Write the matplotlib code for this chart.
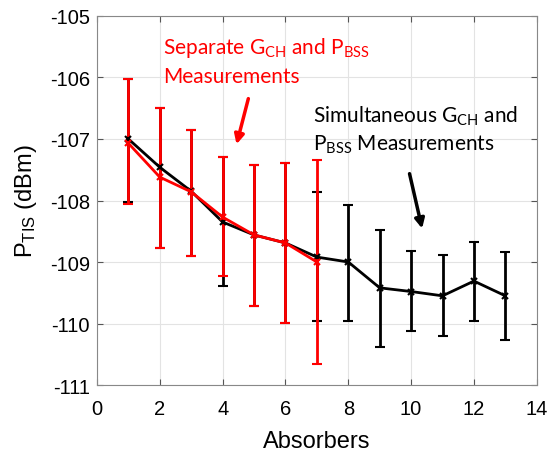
import matplotlib.pyplot as plt

# Simultaneous measurements (black)
absorbers_sim = [1, 2, 3, 4, 5, 6, 7, 8, 9, 10, 11, 12, 13]
ptis_sim = [-107.0, -107.46, -107.85, -108.35, -108.56, -108.69, -108.92,
            -109.0, -109.42, -109.48, -109.55, -109.31, -109.55]
sim_upper = [-106.03, -106.5, -106.86, -107.29, -107.43, -107.39, -107.86,
             -108.07, -108.48, -108.82, -108.88, -108.67, -108.84]
sim_lower = [-108.02, -108.77, -108.9, -109.39, -109.72, -109.99, -109.96,
             -109.96, -110.38, -110.12, -110.2, -109.96, -110.27]

# Separate measurements (red)
absorbers_sep = [1, 2, 3, 4, 5, 6, 7]
ptis_sep = [-107.07, -107.62, -107.86, -108.27, -108.56, -108.69, -109.0]
sep_upper = [-106.03, -106.5, -106.86, -107.3, -107.43, -107.39, -107.34]
sep_lower = [-108.05, -108.77, -108.9, -109.23, -109.72, -109.99, -110.66]

xticks = [0, 2, 4, 6, 8, 10, 12, 14]
yticks = [-111, -110, -109, -108, -107, -106, -105]

plt.rcParams['font.family'] = ['Liberation Sans', 'DejaVu Sans']
plt.rcParams['axes.unicode_minus'] = False

fig = plt.figure(figsize=(5.49, 4.52), dpi=100)
ax = fig.add_axes([0.1767, 0.146, 0.801, 0.8164])


def draw_series(ax, x, y, up, lo, color):
    err = [[m - l for m, l in zip(y, lo)], [u - m for m, u in zip(y, up)]]
    ax.errorbar(x, y, yerr=err, color=color, lw=2, elinewidth=2,
                capsize=3.5, capthick=2, marker='x', markersize=5,
                markeredgewidth=1.5)


draw_series(ax, absorbers_sim, ptis_sim, sim_upper, sim_lower, 'black')
draw_series(ax, absorbers_sep, ptis_sep, sep_upper, sep_lower, '#ff0000')

ax.set_xlim(0, 14)
ax.set_ylim(-111, -105)
ax.set_xticks(xticks)
ax.set_yticks(yticks)
ax.tick_params(direction='in', top=True, right=True, labelsize=14.5,
               color='#555555', length=4, pad=5)
ax.tick_params(axis='x', pad=10)
ax.grid(True, color='#e3e3e3', lw=0.8)
ax.set_axisbelow(True)
for s in ax.spines.values():
    s.set_color('#888888')

ax.set_xlabel('Absorbers', fontsize=17, labelpad=9)
ax.set_ylabel(r'P$\mathregular{_{TIS}}$ (dBm)', fontsize=17, labelpad=8)

txt_font = ['Lato', 'DejaVu Sans']
kw = dict(fontsize=15, family=txt_font, va='center', ha='left')
ax.text(2.1, -105.50, r'Separate G$\mathregular{_{CH}}$ and P$\mathregular{_{BSS}}$',
        color='#ff0000', **kw)
ax.text(2.1, -105.98, 'Measurements', color='#ff0000', **kw)
ax.text(6.87, -106.61, r'Simultaneous G$\mathregular{_{CH}}$ and', color='black', **kw)
ax.text(6.87, -107.08, r'P$\mathregular{_{BSS}}$ Measurements', color='black', **kw)

ax.annotate('', xy=(4.42, -107.13), xytext=(4.84, -106.30),
            arrowprops=dict(arrowstyle='-|>', color='#ff0000', lw=2.5,
                            mutation_scale=14))
ax.annotate('', xy=(10.37, -108.5), xytext=(9.93, -107.52),
            arrowprops=dict(arrowstyle='-|>', color='black', lw=2.5,
                            mutation_scale=14))

fig.savefig('out.png', dpi=100)
